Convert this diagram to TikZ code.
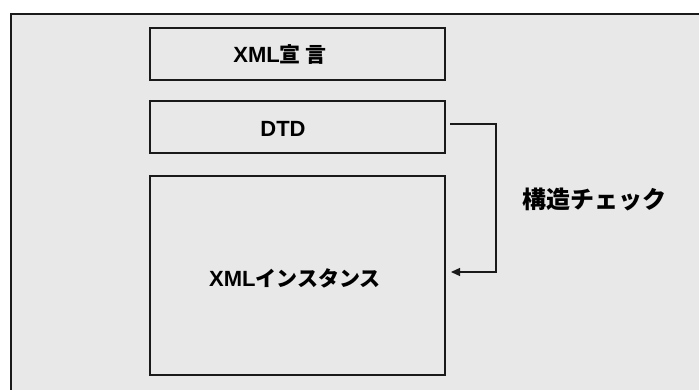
\documentclass[tikz,border=0pt]{standalone}
\usepackage{fontspec}
\setmainfont{Liberation Sans}
\newfontfamily\cjkb{Noto Sans CJK JP Bold}
\usetikzlibrary{arrows.meta}
\definecolor{bgfill}{HTML}{E8E8E8}
\definecolor{edge}{HTML}{1A1A1A}
\tikzset{
  box/.style={draw=edge, line width=1.4pt, fill=bgfill, minimum width=295pt, inner sep=0pt},
  lbl/.style={font=\fontsize{22}{25}\selectfont\bfseries, inner sep=0pt, text=black},
  conn/.style={draw=edge, line width=1.3pt, -{Triangle[length=9pt,width=8pt]}}
}
\begin{document}
\begin{tikzpicture}[x=1pt,y=-1pt]
\useasboundingbox (0,0) rectangle (699,390);
\draw[draw=edge, line width=1.6pt, fill=bgfill] (11,14) rectangle (705,396);
\node[box, minimum height=52pt] (decl) at (297.5,54) {};
\node[box, minimum height=52pt] (dtd) at (297.5,127) {};
\node[box, minimum height=199pt] (inst) at (297.5,275.5) {};
\node[lbl] (decltext) at (280,55) {XML{\cjkb\fontsize{21}{25}\selectfont 宣 言}};
\node[lbl] (dtdtext) at (283,129) {DTD};
\node[lbl] (insttext) at (295,278) {XML{\cjkb\fontsize{21}{25}\selectfont インスタンス}};
\node[lbl] (check) at (594,199) {\cjkb\fontsize{24}{27}\selectfont 構造チェック};
\coordinate (s) at (450,124);
\coordinate (t) at (451,272);
\draw[conn] (s) -- (496,124) -- (496,272) -- (t);
\end{tikzpicture}
\end{document}
